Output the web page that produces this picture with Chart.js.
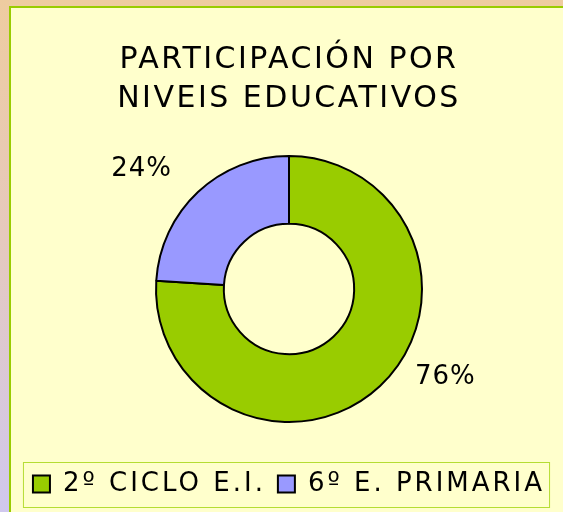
<!DOCTYPE html>
<html>
<head>
<meta charset="utf-8">
<script src="https://cdn.jsdelivr.net/npm/chart.js@4.4.1/dist/chart.umd.min.js"></script>
<style>
  html, body { margin: 0; padding: 0; }
  body {
    width: 563px; height: 512px; overflow: hidden; position: relative;
    background: linear-gradient(to bottom, #eecca0 0%, #e6c9bc 45%, #d0c8ee 100%);
  }
  #panel {
    position: absolute; left: 9px; top: 6px; width: 600px; height: 600px;
    background: #ffffcc; border: 2px solid #99cc00; box-sizing: border-box;
  }
  #myChart { position: absolute; left: 0; top: 0; }
</style>
</head>
<body>
<div id="panel"></div>
<canvas id="myChart" width="563" height="512"></canvas>
<script>
const categories = ["2º CICLO E.I.", "6º E. PRIMARIA"];
const percents = [76, 24];
const colors = ["#99cc00", "#9999ff"];

// the original text is spaced out; canvas resets on resize so set it each time
const spacing = {
  id: "spacing",
  afterInit(chart) {
    const tb = chart.titleBlock;
    const orig = tb.draw.bind(tb);
    tb.draw = (...a) => {
      const ctx = chart.ctx;
      const prev = ctx.letterSpacing;
      ctx.letterSpacing = "2.5px";
      orig(...a);
      ctx.letterSpacing = prev;
    };
  },
  beforeUpdate(chart) { chart.ctx.letterSpacing = "3px"; },
  beforeDraw(chart) { chart.ctx.letterSpacing = "3px"; },
};

// draw the % labels outside the ring, roughly where Excel put them
const pctLabels = {
  id: "pctLabels",
  afterDatasetsDraw(chart, args, opts) {
    const ctx = chart.ctx;
    const arcs = chart.getDatasetMeta(0).data;
    ctx.save();
    ctx.letterSpacing = "1px";
    ctx.font = "26px 'DejaVu Sans'";
    ctx.fillStyle = "#000";
    ctx.textAlign = "center";
    ctx.textBaseline = "middle";
    arcs.forEach((arc, i) => {
      const mid = (arc.startAngle + arc.endAngle) / 2 + opts.nudge[i] * Math.PI / 180;
      const r = arc.outerRadius * opts.dist[i];
      ctx.fillText(percents[i] + "%", arc.x + Math.cos(mid) * r, arc.y + Math.sin(mid) * r);
    });
    ctx.restore();
  },
};

// thin green box round the legend
const legendBox = {
  id: "legendBox",
  afterDraw(chart) {
    const boxes = chart.legend.legendHitBoxes;
    if (!boxes.length) return;
    const left = Math.min(...boxes.map((b) => b.left)) - 10;
    const right = Math.max(...boxes.map((b) => b.left + b.width)) + 4;
    const cy = boxes[0].top + boxes[0].height / 2;
    const ctx = chart.ctx;
    ctx.save();
    ctx.strokeStyle = "#b5dd33";
    ctx.lineWidth = 1;
    ctx.strokeRect(left + 0.5, cy - 22 + 0.5, right - left, 45);
    ctx.restore();
  },
};

const data = {
  labels: categories,
  datasets: [
    {
      data: percents,
      backgroundColor: colors,
      borderColor: "#000",
      borderWidth: 2,
    },
  ],
};

const config = {
  type: "doughnut",
  data,
  options: {
    responsive: false,
    animation: false,
    devicePixelRatio: 1,
    radius: 133,
    cutout: "49%",
    layout: { padding: { left: 15, right: 0, top: 0, bottom: 5 } },
    plugins: {
      title: {
        display: true,
        text: ["PARTICIPACIÓN POR", "NIVEIS EDUCATIVOS"],
        color: "#000",
        font: { family: "'DejaVu Sans'", size: 30, weight: "normal", lineHeight: 1.3 },
        padding: { top: 41, bottom: 0 },
      },
      legend: {
        position: "bottom",
        labels: {
          color: "#000",
          font: { family: "'DejaVu Sans'", size: 26 },
          boxWidth: 17,
          boxHeight: 17,
          padding: 12,
        },
      },
      tooltip: { enabled: false },
      pctLabels: { nudge: [-17.3, -7.6], dist: [1.35, 1.43] },
    },
  },
  plugins: [spacing, pctLabels, legendBox],
};

const myChart = new Chart(document.getElementById("myChart"), config);
</script>
</body>
</html>
